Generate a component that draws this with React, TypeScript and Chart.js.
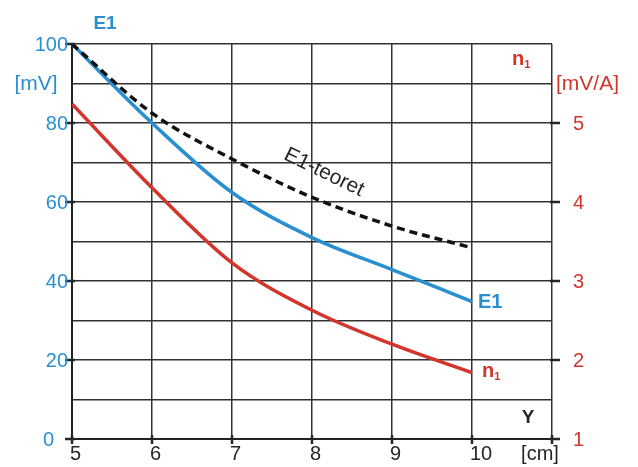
import React, { useEffect, useRef } from "react";
import { Chart, registerables } from "chart.js";

Chart.register(...registerables);

// ---- data ----
const X_VALUES = [5, 6, 7, 8, 9, 10];
const E1_VALUES = [100, 80, 62.4, 51, 42.9, 34.8];
const E1_TEORET_VALUES = [100, 82.5, 70.9, 61.2, 53.9, 48.4];
const N1_VALUES = [5.24, 4.18, 3.23, 2.63, 2.2, 1.84];

const X_TICKS = [5, 6, 7, 8, 9, 10];
const LEFT_TICKS = [0, 20, 40, 60, 80, 100];
const RIGHT_TICKS = [1, 2, 3, 4, 5];

const BLUE = "#2a8fd0";
const RED = "#d2352c";
const DARK = "#262626";
const FONT = "'Liberation Sans', Arial, sans-serif";

const toPoints = (ys: number[]) => X_VALUES.map((x, i) => ({ x, y: ys[i] }));

const textPlugin = {
  id: "textPlugin",
  afterDraw(chart: any) {
    const ctx = chart.ctx as CanvasRenderingContext2D;
    const xs = chart.scales.x;
    const ys = chart.scales.y;
    const y2 = chart.scales.y2;
    const area = chart.chartArea;
    ctx.save();

    // tick marks
    ctx.strokeStyle = DARK;
    ctx.lineWidth = 2.5;
    LEFT_TICKS.forEach((v) => {
      const py = ys.getPixelForValue(v);
      ctx.beginPath();
      ctx.moveTo(area.left - 7, py);
      ctx.lineTo(area.left + 3, py);
      ctx.stroke();
    });
    RIGHT_TICKS.forEach((v) => {
      const py = y2.getPixelForValue(v);
      ctx.beginPath();
      ctx.moveTo(area.right - 2, py);
      ctx.lineTo(area.right + 8, py);
      ctx.stroke();
    });
    [...X_TICKS, 11].forEach((v) => {
      const px = xs.getPixelForValue(v);
      ctx.beginPath();
      ctx.moveTo(px, area.bottom - 4);
      ctx.lineTo(px, area.bottom + 5);
      ctx.stroke();
    });

    // left axis labels
    ctx.fillStyle = BLUE;
    ctx.font = `20px ${FONT}`;
    ctx.textBaseline = "middle";
    ctx.textAlign = "right";
    LEFT_TICKS.forEach((v) => {
      const py = ys.getPixelForValue(v);
      const px = v === 0 ? area.left - 18 : area.left - 4;
      ctx.fillText(String(v), px, py + 1);
    });
    ctx.textAlign = "center";
    ctx.font = `21px ${FONT}`;
    ctx.fillText("[mV]", 36, ys.getPixelForValue(90) + 1);
    ctx.font = `bold 19px ${FONT}`;
    ctx.fillText("E1", 105, 24);

    // right axis labels
    ctx.fillStyle = RED;
    ctx.font = `20px ${FONT}`;
    ctx.textAlign = "left";
    RIGHT_TICKS.forEach((v) => {
      ctx.fillText(String(v), area.right + 21, y2.getPixelForValue(v) + 1);
    });
    ctx.font = `21px ${FONT}`;
    ctx.fillText("[mV/A]", area.right + 4, y2.getPixelForValue(5.5) + 1);

    const drawN1 = (x: number, y: number) => {
      ctx.fillStyle = RED;
      ctx.textAlign = "left";
      ctx.font = `bold 20px ${FONT}`;
      ctx.fillText("n", x, y);
      const w = ctx.measureText("n").width;
      ctx.font = `bold 11px ${FONT}`;
      ctx.fillText("1", x + w, y + 5);
    };
    drawN1(area.right - 40, y2.getPixelForValue(5.8));

    // bottom labels
    ctx.fillStyle = DARK;
    ctx.font = `20px ${FONT}`;
    ctx.textAlign = "left";
    ctx.textBaseline = "middle";
    X_TICKS.forEach((v) => {
      ctx.fillText(String(v), xs.getPixelForValue(v) - 2, area.bottom + 15);
    });
    ctx.textAlign = "center";
    ctx.fillText("[cm]", xs.getPixelForValue(10.85), area.bottom + 15);
    ctx.font = `bold 19px ${FONT}`;
    ctx.fillText("Y", xs.getPixelForValue(10.7), ys.getPixelForValue(5.3));

    // end labels
    const lastX = X_VALUES[X_VALUES.length - 1];
    ctx.fillStyle = BLUE;
    ctx.font = `bold 20px ${FONT}`;
    ctx.textAlign = "left";
    ctx.fillText(
      "E1",
      xs.getPixelForValue(lastX) + 6,
      ys.getPixelForValue(E1_VALUES[E1_VALUES.length - 1]) + 1
    );
    drawN1(
      xs.getPixelForValue(lastX) + 10,
      y2.getPixelForValue(N1_VALUES[N1_VALUES.length - 1]) - 1
    );

    // E1-teoret rotated label
    ctx.save();
    ctx.translate(xs.getPixelForValue(8.15), ys.getPixelForValue(67.5));
    ctx.rotate((26 * Math.PI) / 180);
    ctx.fillStyle = DARK;
    ctx.font = `21px ${FONT}`;
    ctx.textAlign = "center";
    ctx.textBaseline = "middle";
    ctx.fillText("E1-teoret", 0, 0);
    ctx.restore();

    ctx.restore();
  },
};

export default function App() {
  const canvasRef = useRef<HTMLCanvasElement | null>(null);

  useEffect(() => {
    if (!canvasRef.current) return;
    const chart = new Chart(canvasRef.current, {
      type: "line",
      data: {
        datasets: [
          {
            label: "E1-teoret",
            data: toPoints(E1_TEORET_VALUES),
            borderColor: "#111",
            borderWidth: 3.5,
            borderDash: [8, 5],
            pointRadius: 0,
            cubicInterpolationMode: "monotone",
            yAxisID: "y",
          },
          {
            label: "E1",
            data: toPoints(E1_VALUES),
            borderColor: BLUE,
            borderWidth: 3.5,
            pointRadius: 0,
            cubicInterpolationMode: "monotone",
            yAxisID: "y",
          },
          {
            label: "n1",
            data: toPoints(N1_VALUES),
            borderColor: RED,
            borderWidth: 3.5,
            pointRadius: 0,
            cubicInterpolationMode: "monotone",
            yAxisID: "y2",
          },
        ],
      },
      options: {
        responsive: false,
        animation: false,
        layout: { padding: { left: 72, right: 86, top: 44, bottom: 28 } },
        plugins: { legend: { display: false }, tooltip: { enabled: false } },
        scales: {
          x: {
            type: "linear",
            min: 5,
            max: 11,
            ticks: { display: false, stepSize: 1 },
            grid: { color: "#333", lineWidth: 1.5, drawTicks: false },
            border: { display: true, color: "#222", width: 2 },
          },
          y: {
            type: "linear",
            min: 0,
            max: 100,
            ticks: { display: false, stepSize: 10 },
            grid: { color: "#333", lineWidth: 1.5, drawTicks: false },
            border: { display: true, color: "#222", width: 2 },
          },
          y2: {
            type: "linear",
            display: false,
            position: "right",
            min: 1,
            max: 6,
          },
        },
      },
      plugins: [textPlugin],
    });
    return () => chart.destroy();
  }, []);

  return (
    <div style={{ position: "absolute", left: 0, top: 0, width: 638, height: 467, background: "#fff" }}>
      <canvas ref={canvasRef} width={638} height={467} />
    </div>
  );
}
